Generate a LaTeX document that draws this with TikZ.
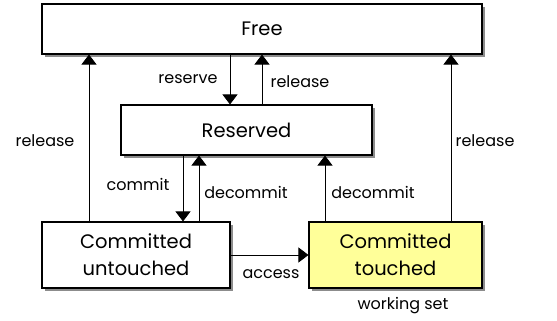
\documentclass[tikz,border=0pt]{standalone}
\usepackage{fontspec}
\setmainfont{Poppins}
\usetikzlibrary{arrows.meta,shadows}
\begin{document}
\begin{tikzpicture}[x=1pt,y=-1pt,
  state/.style={draw=black,line width=1.1pt,fill=white,minimum height=50pt,
    font=\fontsize{19.5}{27}\selectfont,align=center,inner sep=0pt,
    drop shadow={shadow xshift=3pt,shadow yshift=-3pt,fill=black!45,opacity=1}},
  trans/.style={line width=0.9pt,-{Triangle[width=15pt,length=10pt]}},
  lbl/.style={font=\fontsize{16}{19}\selectfont,inner sep=0pt}]
\useasboundingbox (0,0) rectangle (557,321);
% states
\node[state,minimum width=440pt] (free) at (262,29) {Free};
\node[state,minimum width=251pt] (res) at (246.5,130) {Reserved};
\node[state,minimum width=188pt,minimum height=66pt] (cu) at (136,255) {Committed\\untouched};
\node[state,minimum width=173pt,minimum height=66pt,fill={rgb,255:red,255;green,255;blue,153}] (ct) at (395.5,255) {Committed\\touched};
% transitions between free and reserved
\draw[trans] (free.south -| 230,0) -- (res.north -| 230,0);
\draw[trans] (res.north -| 262,0) -- (free.south -| 262,0);
% release straight back to free
\draw[trans] (cu.north -| 89,0) -- (free.south -| 89,0);
\draw[trans] (ct.north -| 451,0) -- (free.south -| 451,0);
% commit / decommit
\draw[trans] (res.south -| 183,0) -- (cu.north -| 183,0);
\draw[trans] (cu.north -| 199,0) -- (res.south -| 199,0);
\draw[trans] (ct.north -| 325,0) -- (res.south -| 325,0);
% access
\draw[trans] (cu.east) -- (ct.west);
% labels
\node[lbl] (lreserve) at (188,79) {reserve};
\node[lbl] (lrelease1) at (300,82) {release};
\node[lbl] (lrelease2) at (45,141) {release};
\node[lbl] (lrelease3) at (485,141) {release};
\node[lbl] (lcommit) at (138,184) {commit};
\node[lbl] (ldecommit1) at (246,192) {decommit};
\node[lbl] (ldecommit2) at (373,192) {decommit};
\node[lbl] (laccess) at (271,274) {access};
\node[lbl] (lws) at (403,306) {working set};
\end{tikzpicture}
\end{document}
